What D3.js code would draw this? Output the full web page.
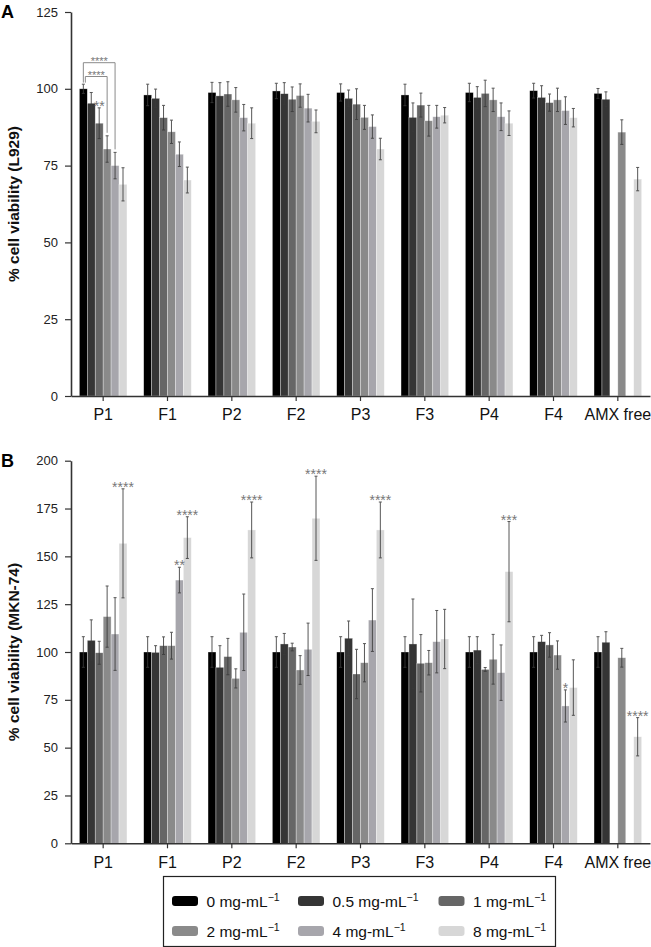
<!DOCTYPE html>
<html>
<head>
<meta charset="utf-8">
<script src="https://cdn.jsdelivr.net/npm/d3@7"></script>
<style>
  body { margin: 0; background: #fff; }
  svg { display: block; font-family: "Liberation Sans", Arial, sans-serif; }
</style>
</head>
<body>
<div id="chart"></div>
<script>
const categories = ['P1', 'F1', 'P2', 'F2', 'P3', 'F3', 'P4', 'F4', 'AMX free'];
const concentrations = ['0', '0.5', '1', '2', '4', '8'];
const colors = ['#000000', '#353535', '#666666', '#8a8a8a', '#a7a6ac', '#d7d7d7'];

// panel A: L929, mean per concentration across categories
const l929Mean = [
  [100, 98, 98.8, 99.3, 98.8, 98, 98.8, 99.4, 98.5],
  [95.3, 96.9, 97.7, 98.4, 96.9, 90.7, 97.2, 97.2, 96.6],
  [88.8, 90.6, 98.3, 96.6, 95, 94.7, 98.5, 95.5, null],
  [80.4, 86, 96.4, 97.8, 90.7, 89.6, 96.4, 96.4, 85.9],
  [75, 78.7, 90.6, 93.7, 87.7, 90.9, 90.9, 92.9, null],
  [68.9, 70.3, 88.8, 89.4, 80.4, 91.4, 88.8, 90.6, 70.6],
];
const l929Err = [
  [1.5, 3.5, 3.3, 2.5, 2.8, 3.5, 3, 2.4, 1.6],
  [3.5, 3, 4.3, 3.6, 2.7, 4.7, 3.5, 3.8, 2.4],
  [5, 4, 4, 4, 5, 3.9, 4.3, 2.8, null],
  [4.3, 3.8, 4, 3.8, 3.9, 5, 3.8, 3.8, 4],
  [4.3, 4, 4.3, 4.5, 3.8, 3.7, 4.5, 4.5, null],
  [5.4, 4.2, 5, 3.7, 3.5, 2.5, 4, 3, 3.8],
];

// panel B: MKN-74
const mknMean = [
  [100, 100, 100, 100, 100, 100, 100, 100, 100],
  [106.1, 99.8, 92, 104.2, 107.2, 104.2, 101, 105.4, 105.1],
  [99.6, 103.3, 97.6, 102.6, 88.5, 94.1, 90.9, 103.7, null],
  [118.5, 103.3, 86.2, 90.6, 94.4, 94.4, 96.2, 98.4, 97],
  [109.4, 137.6, 110.3, 101.4, 116.7, 105.4, 89.2, 71.8, null],
  [156.8, 159.8, 163.8, 169.9, 163.8, 106.8, 142, 81.4, 55.7],
];
const mknErr = [
  [8, 8, 8, 8, 8, 8, 8, 8, 8],
  [10.7, 3.5, 11.3, 5.5, 9, 23.5, 7, 3.3, 5.5],
  [6, 4.6, 9.5, 2, 12.9, 15, 1, 6.4, null],
  [16, 7, 5, 7.5, 10, 6.4, 13, 7.4, 4.9],
  [19, 6.7, 20, 13.7, 16.4, 16.3, 14.5, 8.4, null],
  [28.5, 10.9, 14.6, 22, 14.6, 15.5, 26.2, 14.5, 10],
];

const l929Stars = [{ cat: 'P1', conc: '1', label: '**' }];
const l929Brackets = [
  { cat: 'P1', from: '0', to: '4', level: 108.5, label: '****' },
  { cat: 'P1', from: '0', to: '2', level: 104, label: '****' },
];
const mknStars = [
  { cat: 'P1', conc: '8', label: '****' },
  { cat: 'F1', conc: '4', label: '**' },
  { cat: 'F1', conc: '8', label: '****' },
  { cat: 'P2', conc: '8', label: '****' },
  { cat: 'F2', conc: '8', label: '****' },
  { cat: 'P3', conc: '8', label: '****' },
  { cat: 'P4', conc: '8', label: '***' },
  { cat: 'F4', conc: '4', label: '*' },
  { cat: 'AMX free', conc: '8', label: '****' },
];

const width = 651;
const height = 947;
const root = d3.select('#chart').append('svg').attr('width', width).attr('height', height);

const x0 = d3.scaleBand().domain(categories).range([71, 650]).paddingInner(0.26).paddingOuter(0.13);
const x1 = d3.scaleBand().domain(concentrations).range([0, x0.bandwidth()]);

function panel(opts) {
  const { means, errs, top, bottom, max, ticks, title, letter, stars } = opts;
  const y = d3.scaleLinear().domain([0, max]).range([bottom, top]);
  const g = root.append('g');

  const rows = [];
  means.forEach((series, si) => {
    series.forEach((v, ci) => {
      if (v == null) return;
      rows.push({ cat: categories[ci], conc: concentrations[si], si, v, e: errs[si][ci] });
    });
  });

  // bars
  g.append('g')
    .selectAll('rect')
    .data(rows)
    .join('rect')
    .attr('x', (d) => x0(d.cat) + x1(d.conc))
    .attr('y', (d) => y(d.v))
    .attr('width', x1.bandwidth())
    .attr('height', (d) => y(0) - y(d.v))
    .attr('fill', (d) => colors[d.si])
    .attr('stroke', 'rgba(255,255,255,0.55)')
    .attr('stroke-width', 0.6);

  // error bars
  const cx = (d) => x0(d.cat) + x1(d.conc) + x1.bandwidth() / 2;
  const eb = g.append('g').attr('stroke', '#3a3a3a').attr('stroke-width', 1).attr('opacity', 0.85);
  eb.selectAll('line.v')
    .data(rows)
    .join('line')
    .attr('class', 'v')
    .attr('x1', cx).attr('x2', cx)
    .attr('y1', (d) => y(d.v + d.e))
    .attr('y2', (d) => y(d.v - d.e));
  eb.selectAll('line.t')
    .data(rows.flatMap((d) => [{ d, val: d.v + d.e }, { d, val: d.v - d.e }]))
    .join('line')
    .attr('class', 't')
    .attr('x1', (p) => cx(p.d) - 1.5).attr('x2', (p) => cx(p.d) + 1.5)
    .attr('y1', (p) => y(p.val)).attr('y2', (p) => y(p.val));

  // stars
  const lookup = (cat, conc) => rows.find((r) => r.cat === cat && r.conc === conc);
  g.append('g')
    .selectAll('text')
    .data(stars)
    .join('text')
    .attr('x', (s) => cx(lookup(s.cat, s.conc)))
    .attr('y', (s) => { const r = lookup(s.cat, s.conc); return y(r.v + r.e) + 3; })
    .attr('text-anchor', 'middle')
    .attr('font-size', 14)
    .attr('fill', '#777')
    .text((s) => s.label);

  // axes
  const yAxis = g.append('g')
    .attr('transform', 'translate(71,0)')
    .call(d3.axisLeft(y).tickValues(ticks).tickSize(6).tickPadding(7).tickSizeOuter(0));
  yAxis.selectAll('text').attr('font-size', 13).attr('fill', '#222');
  const xAxis = g.append('g')
    .attr('transform', `translate(0,${bottom})`)
    .call(d3.axisBottom(x0).tickSize(5).tickPadding(8).tickSizeOuter(0));
  xAxis.selectAll('text').attr('font-size', 16).attr('fill', '#111');
  root.selectAll('.domain').attr('stroke', '#333').attr('stroke-width', 1.6);
  root.selectAll('.tick line').attr('stroke', '#333').attr('stroke-width', 1.2);

  g.append('text')
    .attr('transform', `translate(19,${(top + bottom) / 2}) rotate(-90)`)
    .attr('text-anchor', 'middle')
    .attr('font-size', 15.5)
    .attr('font-weight', 'bold')
    .attr('fill', '#111')
    .text(title);
  g.append('text')
    .attr('x', 1)
    .attr('y', top + 6)
    .attr('font-size', 18)
    .attr('font-weight', 'bold')
    .text(letter);

  return { g, y, cx, lookup };
}

const pA = panel({
  means: l929Mean, errs: l929Err, top: 12, bottom: 396, max: 125,
  ticks: [0, 25, 50, 75, 100, 125], title: '% cell viability (L929)', letter: 'A', stars: l929Stars,
});

// significance brackets for panel A
l929Brackets.forEach((b, i) => {
  const left = pA.cx(pA.lookup(b.cat, b.from)) + i * 2;
  const target = pA.lookup(b.cat, b.to);
  const right = pA.cx(target);
  const yl = pA.y(b.level);
  pA.g.append('path')
    .attr('d', `M${left},${pA.y(102)}V${yl}H${right}V${pA.y(target.v + target.e) - 3}`)
    .attr('fill', 'none')
    .attr('stroke', '#8a8a8a')
    .attr('stroke-width', 1);
  pA.g.append('text')
    .attr('x', (left + right) / 2)
    .attr('y', yl + 2.5)
    .attr('text-anchor', 'middle')
    .attr('font-size', 11)
    .attr('fill', '#777')
    .text(b.label);
});

panel({
  means: mknMean, errs: mknErr, top: 460.7, bottom: 843.3, max: 200,
  ticks: [0, 25, 50, 75, 100, 125, 150, 175, 200], title: '% cell viability (MKN-74)', letter: 'B', stars: mknStars,
});

// legend
const legend = root.append('g');
legend.append('rect')
  .attr('x', 163.5).attr('y', 876.5).attr('width', 392).attr('height', 70)
  .attr('fill', '#fff').attr('stroke', '#222').attr('stroke-width', 1.2);
const colX = [172, 298, 438.5];
const rowY = [901, 931];
const items = legend.selectAll('g.item')
  .data(concentrations)
  .join('g')
  .attr('class', 'item')
  .attr('transform', (d, i) => `translate(${colX[i % 3]},${rowY[Math.floor(i / 3)]})`);
items.append('rect')
  .attr('x', 0).attr('y', -5).attr('width', 26).attr('height', 10).attr('rx', 3)
  .attr('fill', (d, i) => colors[i]);
const lt = items.append('text')
  .attr('x', 34.5).attr('y', 5.5)
  .attr('font-size', 15.5)
  .attr('fill', '#111');
lt.append('tspan').text((d) => `${d} mg-mL`);
lt.append('tspan').attr('font-size', 10.5).attr('dy', -6).text('\u22121');
</script>
</body>
</html>
